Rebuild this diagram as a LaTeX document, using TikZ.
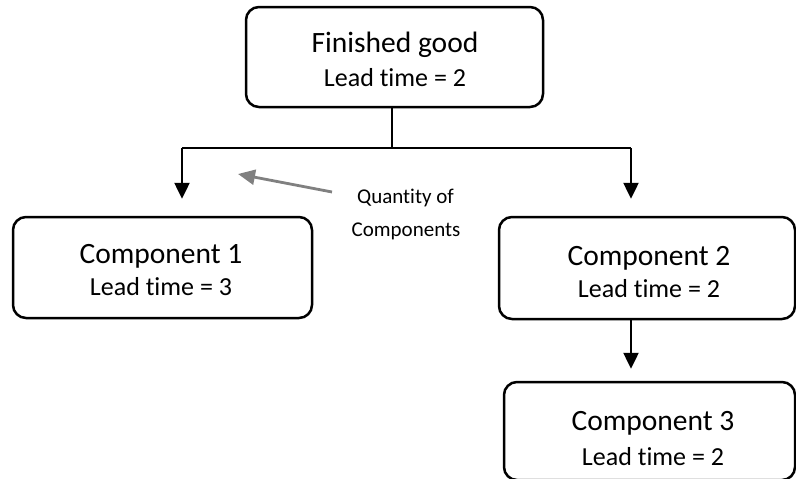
\documentclass[tikz,border=0pt]{standalone}
\usepackage{fontspec}
\setmainfont[Ligatures={NoCommon,NoRare,NoContextual}]{Carlito}
\usetikzlibrary{arrows.meta}
\tikzset{
  box/.style={draw=black, line width=2.5pt, rounded corners=13pt, fill=none, inner sep=0pt},
  titletext/.style={anchor=base, inner sep=0pt, font=\fontsize{29.5}{32}\selectfont},
  leadtext/.style={anchor=base, inner sep=0pt, font=\fontsize{26}{30}\selectfont},
  notetext/.style={anchor=base, inner sep=0pt, font=\fontsize{21}{25}\selectfont},
  thinline/.style={draw=black, line width=1.5pt},
  arr/.style={draw=black, line width=2.5pt, -{Triangle[width=15pt,length=16pt]}},
  greyarr/.style={draw=gray, line width=2.8pt, -{Triangle[width=15pt,length=17pt]}}
}
\begin{document}
\begin{tikzpicture}[x=1pt,y=-1pt]
\useasboundingbox (0,0) rectangle (796,479);
% boxes
\node[box, minimum width=297pt, minimum height=100pt] (fg) at (394.5,57) {};
\node[box, minimum width=299pt, minimum height=101pt] (c1) at (162.5,267.5) {};
\node[box, minimum width=296pt, minimum height=102pt] (c2) at (647,268) {};
\node[box, minimum width=291pt, minimum height=98pt] (c3) at (649.5,431) {};
% texts
\node[titletext] (fgt) at (395,52) {Finished good};
\node[leadtext] (fgl) at (395,86) {Lead time = 2};
\node[titletext] (c1t) at (161,263) {Component 1};
\node[leadtext] (c1l) at (161,295) {Lead time = 3};
\node[titletext] (c2t) at (649,265) {Component 2};
\node[leadtext] (c2l) at (649,297) {Lead time = 2};
\node[titletext] (c3t) at (653,430) {Component 3};
\node[leadtext] (c3l) at (653,465) {Lead time = 2};
\node[notetext] (q1) at (405.5,203) {Quantity of};
\node[notetext] (q2) at (406,236) {Components};
% connectors
\coordinate (j) at (392,148);
\coordinate (jl) at (182,148);
\coordinate (jr) at (631,148);
\draw[thinline] (fg.south -| j) -- (j);
\draw[thinline] (jl) -- (jr);
\draw[arr, shorten >=17pt] (jl) -- (jl |- c1.north);
\draw[arr, shorten >=17pt] (jr) -- (jr |- c2.north);
\draw[arr, shorten >=12pt] (c2.south -| jr) -- (jr |- c3.north);
\coordinate (gs) at (332,192);
\coordinate (ge) at (238,174);
\draw[greyarr] (gs) -- (ge);
\end{tikzpicture}
\end{document}
